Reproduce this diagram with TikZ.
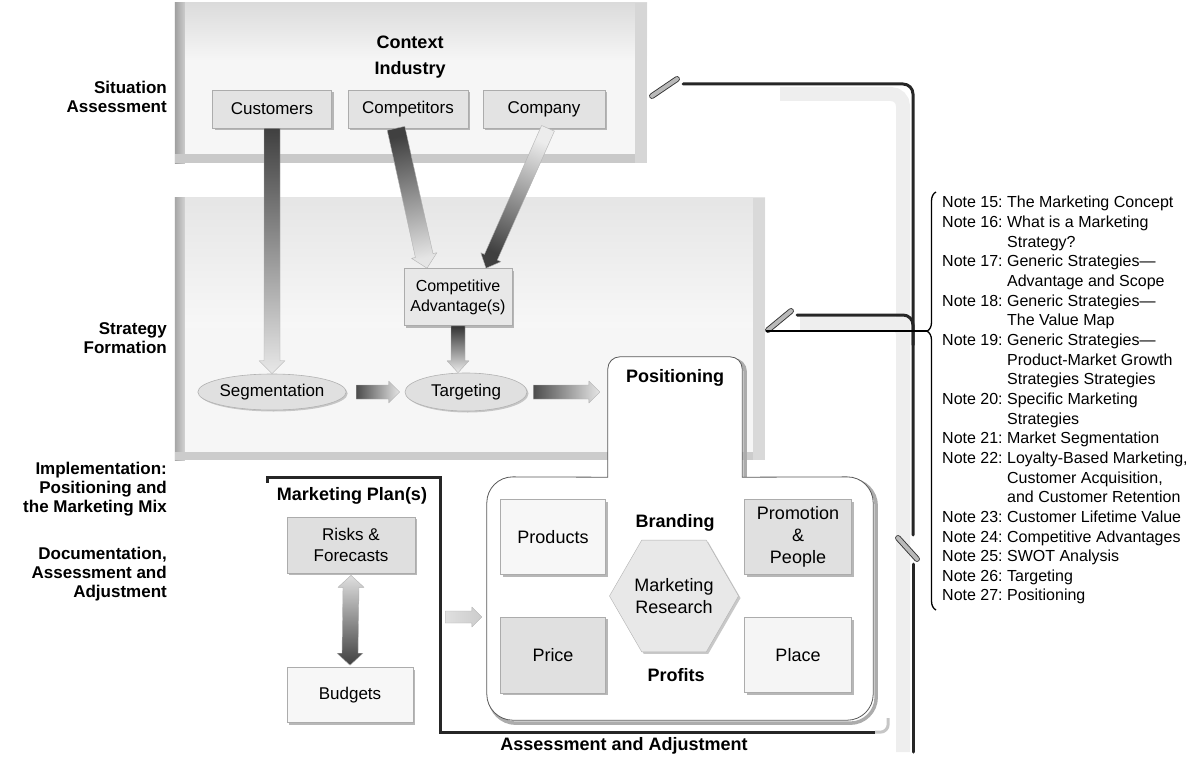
\documentclass[tikz,border=0pt]{standalone}
\usepackage{fontspec}
\setmainfont{Liberation Sans}
\usetikzlibrary{calc,shapes.geometric,shadows,decorations.pathreplacing}

% thick shaded block arrow: start, end, half shaft, half head, head length, start colour, end colour
\newcommand\blockarrow[7]{%
  \path (#1) coordinate (ba-s) (#2) coordinate (ba-e);
  \path ($(ba-e)!#5!(ba-s)$) coordinate (ba-n);
  \pgfmathanglebetweenpoints{\pgfpointanchor{ba-s}{center}}{\pgfpointanchor{ba-e}{center}}%
  \pgfmathsetmacro\baangle{\pgfmathresult+90}%
  \shade[top color=#6, bottom color=#7, shading angle=\baangle, draw=gray!60, line width=0.4pt, line join=round]
    ($(ba-s)!#3!90:(ba-e)$) -- ($(ba-n)!#3!90:(ba-e)$) -- ($(ba-n)!#4!90:(ba-e)$) -- (ba-e)
    -- ($(ba-n)!#4!-90:(ba-e)$) -- ($(ba-n)!#3!-90:(ba-e)$) -- ($(ba-s)!#3!-90:(ba-e)$) -- cycle;
}

\tikzset{
  panel/.style={fill=gray!7, draw=none, inner sep=0pt},
  box/.style={draw=gray!65, line width=0.6pt, fill=#1, inner sep=2pt, align=center,
    font=\fontsize{17}{21}\selectfont,
    drop shadow={shadow xshift=2pt, shadow yshift=-2pt, fill=gray!70, opacity=0.8}},
  box/.default=gray!22,
  oval/.style={ellipse, draw=gray!60, line width=0.6pt, fill=gray!24, inner sep=0pt,
    font=\fontsize{17}{21}\selectfont,
    drop shadow={shadow xshift=1.5pt, shadow yshift=-1.5pt, fill=gray!60, opacity=0.7}},
  stage/.style={anchor=east, align=right, font=\bfseries\fontsize{17}{19}\selectfont, inner sep=0pt},
  heading/.style={font=\bfseries\fontsize{18}{21}\selectfont, inner sep=0pt},
  loopline/.style={line width=3pt, black!85, line cap=round},
  tickmark/.style={draw=black!80, double=gray!55, double distance=4pt, line width=0.9pt, line cap=round},
  band/.style={gray!13, line width=14pt},
  hollow/.style={draw=none, fill=none, inner sep=0pt}
}

\begin{document}
\begin{tikzpicture}[x=1pt, y=-1pt]
\useasboundingbox (0,0) rectangle (1196,757);

% ---------- stage labels ----------
\node[stage] (lsit) at (167,97) {Situation\\Assessment};
\node[stage] (lstr) at (167,338) {Strategy\\Formation};
\node[stage] (limp) at (167,489) {Implementation:\\Positioning and\\the Marketing Mix};
\node[stage] (ldoc) at (167,574) {Documentation,\\Assessment and\\Adjustment};

% ---------- context panel ----------
\node[panel, minimum width=472pt, minimum height=160pt] (ctxpanel) at (411,83) {};
\shade[top color=gray!28, bottom color=gray!7] (ctxpanel.north west) rectangle ($(ctxpanel.north east)+(0,58)$);
\shade[left color=gray!75, right color=gray!40] (ctxpanel.north west) rectangle ($(ctxpanel.south west)+(10,0)$);
\fill[gray!42] ($(ctxpanel.south west)+(0,-9)$) rectangle (ctxpanel.south east);
\fill[gray!32] ($(ctxpanel.north east)+(-12,0)$) rectangle (ctxpanel.south east);

% ---------- strategy panel ----------
\node[panel, minimum width=590pt, minimum height=262pt] (strpanel) at (470,329) {};
\shade[top color=gray!20, bottom color=gray!6] (strpanel.north west) rectangle ($(strpanel.north east)+(0,130)$);
\shade[left color=gray!70, right color=gray!35] (strpanel.north west) rectangle ($(strpanel.south west)+(10,0)$);
\fill[gray!40] ($(strpanel.south west)+(0,-8)$) rectangle (strpanel.south east);
\fill[gray!30] ($(strpanel.north east)+(-12,0)$) rectangle (strpanel.south east);

% ---------- feedback loop ----------
\draw[band, rounded corners=12] (780,94) -| (903,752);
\draw[band, rounded corners=10] (800,324) -| (903,345);
\draw[loopline, rounded corners=10] (683,84) -| (913,535);
\draw[loopline, rounded corners=10] (797,315) -| (913,345);
\draw[loopline] (913,564) -- (913,752);
\draw[tickmark] (652,96) -- (677,79);
\draw[tickmark] (768,330) -- (791,311);
\draw[tickmark] (898,538) -- (917,559);

% ---------- notes ----------
\draw[decorate, decoration={brace, amplitude=9pt, aspect=0.667}, line width=1.3pt] (936,610) -- (936,192);
\coordinate (bracetip) at (927,331);
\coordinate (strtap) at (766,331);
\draw[line width=1.6pt] (strtap) -- (bracetip);
\node[anchor=north west, inner sep=0pt, font=\fontsize{16}{19.65}\selectfont] (notes) at (942,194) {%
\begin{tabular}{@{}l@{\ }l@{}}
Note 15: & The Marketing Concept\\
Note 16: & What is a Marketing\\
 & Strategy?\\
Note 17: & Generic Strategies—\\
 & Advantage and Scope\\
Note 18: & Generic Strategies—\\
 & The Value Map\\
Note 19: & Generic Strategies—\\
 & Product-Market Growth\\
 & Strategies Strategies\\
Note 20: & Specific Marketing\\
 & Strategies\\
Note 21: & Market Segmentation\\
Note 22: & Loyalty-Based Marketing,\\
 & Customer Acquisition,\\
 & and Customer Retention\\
Note 23: & Customer Lifetime Value\\
Note 24: & Competitive Advantages\\
Note 25: & SWOT Analysis\\
Note 26: & Targeting\\
Note 27: & Positioning
\end{tabular}};

% ---------- situation assessment ----------
\node[heading] (context) at (410,42) {Context};
\node[heading] (industry) at (410,70) {Industry};
\node[box, minimum width=119pt, minimum height=38pt] (cust) at (272,109) {Customers};
\node[box, minimum width=120pt, minimum height=38pt] (comp) at (408,109) {Competitors};
\node[box, minimum width=122pt, minimum height=38pt] (compy) at (544,109) {Company};

% ---------- strategy formation ----------
\node[box=gray!18, minimum width=108pt, minimum height=57pt, font=\fontsize{16}{20}\selectfont] (cadv) at (458,297) {Competitive\\Advantage(s)};
\node[oval, minimum width=126pt, minimum height=36pt] (seg) at (272,392) {Segmentation};
\node[oval, minimum width=122pt, minimum height=38pt] (targ) at (466,392) {Targeting};

% ---------- positioning and marketing mix ----------
\node[hollow, minimum width=134pt, minimum height=120pt] (tab) at (675,417) {};
\node[hollow, minimum width=386pt, minimum height=243pt] (mix) at (680,598.5) {};
\draw[gray!65, line width=3.5pt, transform canvas={xshift=3pt, yshift=-3pt}]
  (tab.south west) [rounded corners=12] -- (tab.north west) -- (tab.north east) [sharp corners] -- (tab.south east)
  [rounded corners=26] -- (mix.north east) -- (mix.south east) -- (mix.south west) -- (mix.north west) [sharp corners] -- cycle;
\draw[fill=white, draw=gray!70!black, line width=0.8pt]
  (tab.south west) [rounded corners=12] -- (tab.north west) -- (tab.north east) [sharp corners] -- (tab.south east)
  [rounded corners=26] -- (mix.north east) -- (mix.south east) -- (mix.south west) -- (mix.north west) [sharp corners] -- cycle;
\node[heading] (pos) at (675,378) {Positioning};

\node[box=gray!6, minimum width=105pt, minimum height=75pt, font=\fontsize{18}{22}\selectfont] (prod) at (553,537) {Products};
\node[box=gray!24, minimum width=105pt, minimum height=76pt, font=\fontsize{18}{22}\selectfont] (price) at (553,655) {Price};
\node[box=gray!24, minimum width=107pt, minimum height=75pt, font=\fontsize{18}{22}\selectfont] (promo) at (798,537) {Promotion\\\&\\People};
\node[box=gray!8, minimum width=107pt, minimum height=75pt, font=\fontsize{18}{22}\selectfont] (place) at (798,655) {Place};
\node[heading] (brand) at (675,523) {Branding};
\node[heading] (profit) at (676,675) {Profits};
\node[regular polygon, regular polygon sides=6, minimum size=126pt, inner sep=0pt, draw=gray!60, fill=gray!18,
  align=center, font=\fontsize{18}{22}\selectfont,
  drop shadow={shadow xshift=2pt, shadow yshift=-2pt, fill=gray!60, opacity=0.7}] (mres) at (674,596) {Marketing\\Research};

% ---------- marketing plan ----------
\node[hollow, minimum width=172pt, minimum height=254pt] (plan) at (354,605) {};
\draw[line width=3.2pt, black!85] ($(plan.north west)+(0,5)$) -- (plan.north west) -- (plan.north east) -- (plan.south east) -- ($(plan.south east)+(435,0)$);
\draw[gray!45, line width=3pt, rounded corners=8] ($(plan.south east)+(435,0)$) -- ($(plan.south east)+(448,0)$) -- ($(plan.south east)+(448,-14)$);
\node[heading, anchor=north] (plantitle) at ($(plan.north)+(-2,9)$) {Marketing Plan(s)};
\node[box=gray!25, minimum width=128pt, minimum height=56pt] (risk) at (351,545) {Risks \&\\Forecasts};
\node[box=gray!6, minimum width=126pt, minimum height=55pt] (bud) at (350,695) {Budgets};
\node[heading] (assess) at (624,746) {Assessment and Adjustment};

% ---------- arrows ----------
\blockarrow{cust.south}{seg.north}{8pt}{13pt}{13pt}{black!75}{gray!18}
\blockarrow{$(comp.south)+(-12,0)$}{$(cadv.north)+(-31,0)$}{9pt}{13pt}{13pt}{black!75}{gray!20}
\blockarrow{$(compy.south)+(4,0)$}{$(cadv.north)+(28,0)$}{7pt}{11pt}{12pt}{gray!15}{black!75}
\blockarrow{cadv.south}{cadv.south |- targ.north}{7pt}{11pt}{12pt}{black!80}{gray!15}
\blockarrow{$(seg.east)+(10,0)$}{$(targ.west)+(-5,0)$}{7pt}{11pt}{11pt}{black!70}{gray!20}
\blockarrow{$(targ.east)+(6,0)$}{$(tab.west |- targ.east)+(-8,0)$}{7pt}{11pt}{11pt}{black!70}{gray!20}
\blockarrow{$(plan.east |- 0,617)+(5,0)$}{$(mix.west |- 0,617)+(-5,0)$}{6pt}{10pt}{10pt}{gray!25}{gray!40}

% double arrow between risks and budgets
\coordinate (dra) at ($(risk.south)+(0,2)$);
\coordinate (drb) at ($(bud.north)+(0,-2)$);
\shade[top color=gray!25, bottom color=black!75, draw=gray!60, line width=0.4pt, line join=round]
  (dra) -- ($(dra)+(13,12)$) -- ($(dra)+(8,12)$) -- ($(drb)+(8,-12)$) -- ($(drb)+(13,-12)$) -- (drb)
  -- ($(drb)+(-13,-12)$) -- ($(drb)+(-8,-12)$) -- ($(dra)+(-8,12)$) -- ($(dra)+(-13,12)$) -- cycle;

\end{tikzpicture}
\end{document}
